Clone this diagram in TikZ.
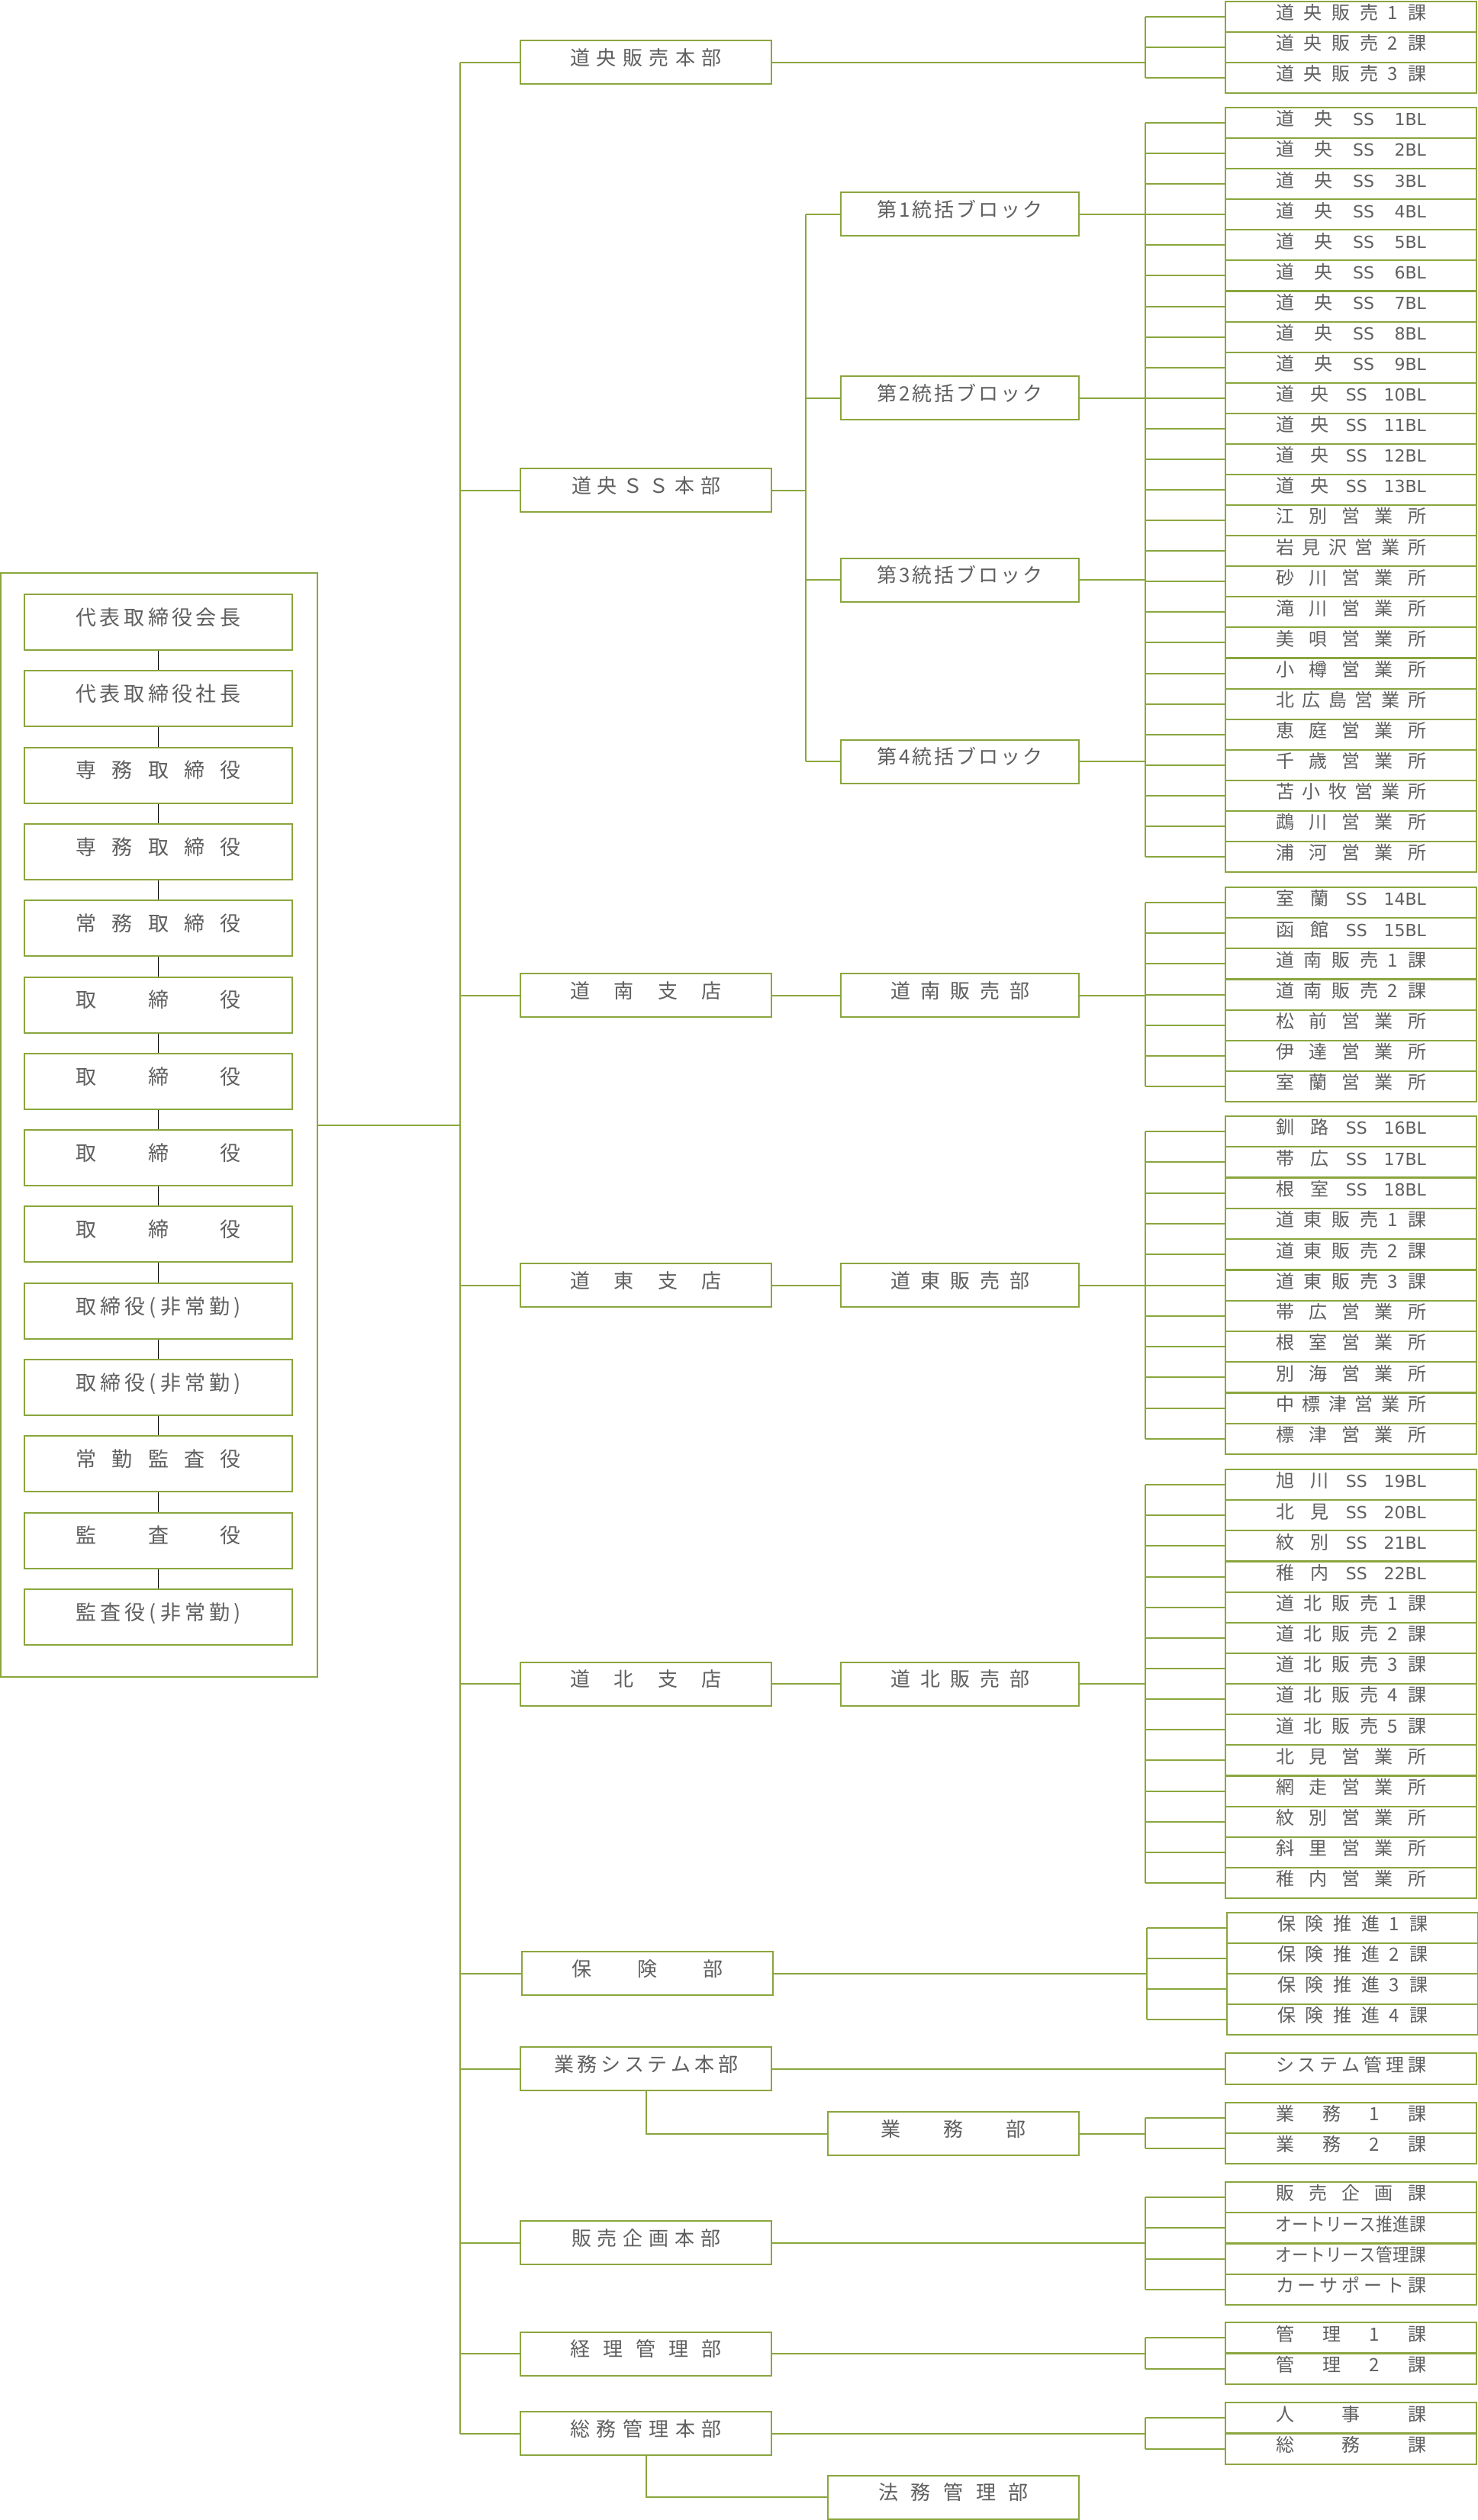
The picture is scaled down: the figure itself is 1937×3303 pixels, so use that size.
\documentclass[tikz,border=0pt]{standalone}
\usepackage{fontspec}
\usepackage{graphicx}
\setmainfont{Noto Sans CJK JP}
\newfontfamily\latinf{DejaVu Sans}
\definecolor{lgreen}{RGB}{138,166,62}
\definecolor{tgray}{RGB}{96,96,96}
\makeatletter
\newcommand\spreadtext[2]{\makebox[#1][s]{\let\sp@sep\empty\@tfor\sp@x:=#2\do{\sp@sep\sp@x\let\sp@sep\hfil}}}
\makeatother
\tikzset{
  gbox/.style={draw=lgreen, line width=2pt, fill=white, inner sep=0pt, text=tgray, text height=0.83em, text depth=0.07em},
  leftbox/.style={gbox, minimum width=351pt, minimum height=73pt, font=\fontsize{27}{30}\selectfont},
  lonebox/.style={gbox, minimum width=329pt, minimum height=57pt, font=\fontsize{26}{30}\selectfont},
  ltwobox/.style={gbox, minimum width=312pt, minimum height=57pt, font=\fontsize{26}{30}\selectfont},
  rbox/.style={gbox, minimum width=329pt, minimum height=40pt, font=\fontsize{24}{28}\selectfont},
  conn/.style={draw=lgreen, line width=2pt},
  tinline/.style={draw=black, line width=1pt},
  framebox/.style={draw=lgreen, line width=2pt, inner sep=0pt, minimum width=415pt, minimum height=1447pt},
}
% right column row: [bus shift]{name}{y}{content}
\newcommand\rrowc[4][0]{%
  \node[rbox] (#2) at ({1770.5+#1},#3) {#4};
  \coordinate (#2s) at ({1501+#1},#3);
  \draw[conn] (#2s) -- (#2.west);}
\newcommand\rrow[4][0]{\rrowc[#1]{#2}{#3}{\spreadtext{197pt}{#4}}}
\newcommand\ssrow[4]{\rrow{#1}{#2}{#3{{\latinf\fontsize{22}{26}\selectfont SS}}{{\latinf\fontsize{22}{26}\selectfont #4BL}}}}
\begin{document}
\begin{tikzpicture}[x=1pt,y=-1pt]
\fill[white] (0,0) rectangle (1937,3303);
\useasboundingbox (0,0) rectangle (1937,3303);

% ---------------- executives frame ----------------
\node[framebox] (frame) at (208.5,1474.5) {};
\node[leftbox] (x1)  at (207.5,815.5)  {\spreadtext{216pt}{代表取締役会長}};
\node[leftbox] (x2)  at (207.5,915.8)  {\spreadtext{216pt}{代表取締役社長}};
\node[leftbox] (x3)  at (207.5,1016.1) {\spreadtext{216pt}{専務取締役}};
\node[leftbox] (x4)  at (207.5,1116.4) {\spreadtext{216pt}{専務取締役}};
\node[leftbox] (x5)  at (207.5,1216.7) {\spreadtext{216pt}{常務取締役}};
\node[leftbox] (x6)  at (207.5,1317.0) {\spreadtext{216pt}{取締役}};
\node[leftbox] (x7)  at (207.5,1417.3) {\spreadtext{216pt}{取締役}};
\node[leftbox] (x8)  at (207.5,1517.6) {\spreadtext{216pt}{取締役}};
\node[leftbox] (x9)  at (207.5,1617.9) {\spreadtext{216pt}{取締役}};
\node[leftbox] (x10) at (207.5,1718.2) {\spreadtext{216pt}{取締役(非常勤)}};
\node[leftbox] (x11) at (207.5,1818.5) {\spreadtext{216pt}{取締役(非常勤)}};
\node[leftbox] (x12) at (207.5,1918.8) {\spreadtext{216pt}{常勤監査役}};
\node[leftbox] (x13) at (207.5,2019.1) {\spreadtext{216pt}{監査役}};
\node[leftbox] (x14) at (207.5,2119.4) {\spreadtext{216pt}{監査役(非常勤)}};
\foreach \i [evaluate=\i as \j using int(\i+1)] in {1,...,13}
  \draw[tinline] (x\i.south) -- (x\j.north);

% ---------------- trunk and level 1 ----------------
\node[lonebox] (L1)  at (846.5,81.5)   {\spreadtext{198pt}{道央販売本部}};
\node[lonebox] (L2)  at (846.5,642.5)  {\spreadtext{195pt}{道央ＳＳ本部}};
\node[lonebox] (L3)  at (846.5,1304.5) {\spreadtext{198pt}{道南支店}};
\node[lonebox] (L4)  at (846.5,1684.5) {\spreadtext{198pt}{道東支店}};
\node[lonebox] (L5)  at (846.5,2207)   {\spreadtext{198pt}{道北支店}};
\node[lonebox] (L6)  at (848.5,2586.5) {\spreadtext{198pt}{保険部}};
\node[lonebox] (L7)  at (846.5,2711.5) {\spreadtext{241pt}{業務システム本部}};
\node[lonebox] (L8)  at (846.5,2939.5) {\spreadtext{195pt}{販売企画本部}};
\node[lonebox] (L9)  at (846.5,3085)   {\spreadtext{198pt}{経理管理部}};
\node[lonebox] (L10) at (846.5,3189.5) {\spreadtext{198pt}{総務管理本部}};
\coordinate (tf) at (603,1474.5);
\foreach \i/\y in {1/81.5,2/642.5,3/1304.5,4/1684.5,5/2207,6/2586.5,7/2711.5,8/2939.5,9/3085,10/3189.5}{
  \coordinate (t\i) at (603,\y);
  \draw[conn] (t\i) -- (L\i.west);
}
\draw[conn] (t1) -- (t10);
\draw[conn] (frame.east) -- (tf);

% ---------------- level 2 ----------------
\node[ltwobox] (B1) at (1258,280.5) {\spreadtext{218pt}{第1統括ブロック}};
\node[ltwobox] (B2) at (1258,521.5) {\spreadtext{218pt}{第2統括ブロック}};
\node[ltwobox] (B3) at (1258,760)   {\spreadtext{218pt}{第3統括ブロック}};
\node[ltwobox] (B4) at (1258,998)   {\spreadtext{218pt}{第4統括ブロック}};
\foreach \i/\y in {1/280.5,2/521.5,3/760,4/998}
  \coordinate (bb\i) at (1056,\y);
\coordinate (bbp) at (1056,642.5);
\draw[conn] (bb1) -- (bb4);
\draw[conn] (L2.east) -- (bbp);
\foreach \i in {1,...,4} \draw[conn] (bb\i) -- (B\i.west);

\node[ltwobox] (N2) at (1258,1304.5) {\spreadtext{182pt}{道南販売部}};
\node[ltwobox] (D2) at (1258,1684.5) {\spreadtext{182pt}{道東販売部}};
\node[ltwobox] (K2) at (1258,2207)   {\spreadtext{182pt}{道北販売部}};
\draw[conn] (L3.east) -- (N2.west);
\draw[conn] (L4.east) -- (D2.west);
\draw[conn] (L5.east) -- (K2.west);

\node[lonebox] (G2) at (1249.5,2796.5) {\spreadtext{190pt}{業務部}};
\node[lonebox] (H2) at (1249.5,3273)   {\spreadtext{197pt}{法務管理部}};
\draw[conn] (L7.south) |- (G2.west);
\draw[conn] (L10.south) |- (H2.west);

% ---------------- right column ----------------
% 道央販売本部
\rrow{a1}{22}{道央販売1課}
\rrow{a2}{62}{道央販売2課}
\rrow{a3}{102}{道央販売3課}
\draw[conn] (a1s) -- (a3s);
\coordinate (pa) at (1501,81.5);
\draw[conn] (L1.east) -- (pa);

% 道央SS
\ssrow{s1}{161.0}{道央}{1}
\ssrow{s2}{201.1}{道央}{2}
\ssrow{s3}{241.2}{道央}{3}
\ssrow{s4}{281.3}{道央}{4}
\ssrow{s5}{321.4}{道央}{5}
\ssrow{s6}{361.4}{道央}{6}
\ssrow{s7}{401.5}{道央}{7}
\ssrow{s8}{441.6}{道央}{8}
\ssrow{s9}{481.7}{道央}{9}
\ssrow{s10}{521.8}{道央}{10}
\ssrow{s11}{561.8}{道央}{11}
\ssrow{s12}{601.9}{道央}{12}
\ssrow{s13}{642.0}{道央}{13}
\rrow{s14}{682.1}{江別営業所}
\rrow{s15}{722.2}{岩見沢営業所}
\rrow{s16}{762.2}{砂川営業所}
\rrow{s17}{802.3}{滝川営業所}
\rrow{s18}{842.4}{美唄営業所}
\rrow{s19}{882.5}{小樽営業所}
\rrow{s20}{922.6}{北広島営業所}
\rrow{s21}{962.6}{恵庭営業所}
\rrow{s22}{1002.7}{千歳営業所}
\rrow{s23}{1042.8}{苫小牧営業所}
\rrow{s24}{1082.9}{鵡川営業所}
\rrow{s25}{1123.0}{浦河営業所}
\draw[conn] (s1s) -- (s25s);
\foreach \i/\y in {1/280.5,2/521.5,3/760,4/998}{
  \coordinate (pb\i) at (1501,\y);
  \draw[conn] (B\i.east) -- (pb\i);
}

% 道南
\ssrow{n1}{1183.1}{室蘭}{14}
\ssrow{n2}{1223.2}{函館}{15}
\rrow{n3}{1263.3}{道南販売1課}
\rrow{n4}{1303.5}{道南販売2課}
\rrow{n5}{1343.6}{松前営業所}
\rrow{n6}{1383.8}{伊達営業所}
\rrow{n7}{1423.9}{室蘭営業所}
\draw[conn] (n1s) -- (n7s);
\coordinate (pn) at (1501,1304.5);
\draw[conn] (N2.east) -- (pn);

% 道東
\ssrow{d1}{1483.1}{釧路}{16}
\ssrow{d2}{1523.4}{帯広}{17}
\ssrow{d3}{1563.7}{根室}{18}
\rrow{d4}{1604.0}{道東販売1課}
\rrow{d5}{1644.2}{道東販売2課}
\rrow{d6}{1684.5}{道東販売3課}
\rrow{d7}{1724.8}{帯広営業所}
\rrow{d8}{1765.0}{根室営業所}
\rrow{d9}{1805.3}{別海営業所}
\rrow{d10}{1845.6}{中標津営業所}
\rrow{d11}{1885.9}{標津営業所}
\draw[conn] (d1s) -- (d11s);
\coordinate (pd) at (1501,1684.5);
\draw[conn] (D2.east) -- (pd);

% 道北
\ssrow{k1}{1946.1}{旭川}{19}
\ssrow{k2}{1986.2}{北見}{20}
\ssrow{k3}{2026.4}{紋別}{21}
\ssrow{k4}{2066.5}{稚内}{22}
\rrow{k5}{2106.6}{道北販売1課}
\rrow{k6}{2146.8}{道北販売2課}
\rrow{k7}{2186.9}{道北販売3課}
\rrow{k8}{2227.0}{道北販売4課}
\rrow{k9}{2267.2}{道北販売5課}
\rrow{k10}{2307.3}{北見営業所}
\rrow{k11}{2347.5}{網走営業所}
\rrow{k12}{2387.6}{紋別営業所}
\rrow{k13}{2427.7}{斜里営業所}
\rrow{k14}{2467.9}{稚内営業所}
\draw[conn] (k1s) -- (k14s);
\coordinate (pk) at (1501,2207);
\draw[conn] (K2.east) -- (pk);

% 保険
\rrow[2]{h1}{2527}{保険推進1課}
\rrow[2]{h2}{2567}{保険推進2課}
\rrow[2]{h3}{2607}{保険推進3課}
\rrow[2]{h4}{2647}{保険推進4課}
\draw[conn] (h1s) -- (h4s);
\coordinate (ph) at (1503,2586.5);
\draw[conn] (L6.east) -- (ph);

% システム管理課
\node[rbox, minimum height=41pt] (g1) at (1770.5,2711.5) {\spreadtext{197pt}{システム管理課}};
\draw[conn] (L7.east) -- (g1.west);

% 業務部
\rrow{m1}{2776}{業務1課}
\rrow{m2}{2816}{業務2課}
\draw[conn] (m1s) -- (m2s);
\coordinate (pm) at (1501,2796.5);
\draw[conn] (G2.east) -- (pm);

% 販売企画
\rrow{p1}{2880.1}{販売企画課}
\rrowc{p2}{2920.4}{\scalebox{0.9}[1]{\spreadtext{219pt}{オートリース推進課}}}
\rrowc{p3}{2960.6}{\scalebox{0.9}[1]{\spreadtext{219pt}{オートリース管理課}}}
\rrow{p4}{3000.9}{カーサポート課}
\draw[conn] (p1s) -- (p4s);
\coordinate (pp) at (1501,2939.5);
\draw[conn] (L8.east) -- (pp);

% 経理
\rrow{r1}{3064.3}{管理1課}
\rrow{r2}{3104.8}{管理2課}
\draw[conn] (r1s) -- (r2s);
\coordinate (pr) at (1501,3085);
\draw[conn] (L9.east) -- (pr);

% 総務
\rrow{q1}{3169.3}{人事課}
\rrow{q2}{3209.8}{総務課}
\draw[conn] (q1s) -- (q2s);
\coordinate (pq) at (1501,3189.5);
\draw[conn] (L10.east) -- (pq);
\end{tikzpicture}
\end{document}
